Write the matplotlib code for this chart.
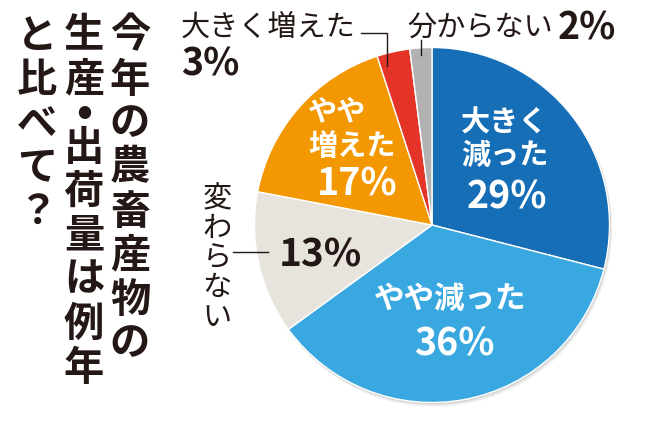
import matplotlib

matplotlib.use("Agg")
import matplotlib.pyplot as plt
from matplotlib.patches import Circle

plt.rcParams["font.family"] = ["Noto Sans CJK JP", "DejaVu Sans"]

# data
LABELS = ["大きく減った", "やや減った", "変わらない", "やや増えた", "大きく増えた", "分からない"]
SHARES = [29, 36, 13, 17, 3, 2]
COLORS = ["#166eb6", "#3aa8e0", "#e7e3dd", "#f39800", "#e43428", "#b2b2b2"]
TITLE_COLUMNS = ["今年の農畜産物の", "生産・出荷量は例年", "と比べて？"]

INK = "#231815"
CX, CY, R = 432, 225, 177.5


def pct(i: int) -> str:
    return f"{SHARES[i]}%"


def draw_title(ax) -> None:
    # vertical columns, right to left
    col_x = [130, 84, 37]
    for x, col in zip(col_x, TITLE_COLUMNS):
        y = 36
        prev = ""
        for ch in col:
            if prev:
                y += 34 if "・" in (ch, prev) else 44
            if ch == "・":
                # small round bullet, centred in the column
                ax.text(x, y, "●", ha="center", va="center", fontsize=10, color=INK)
            else:
                ax.text(x, y, ch, ha="center", va="center", fontsize=29,
                        fontweight="bold", color=INK)
            prev = ch


def main() -> None:
    fig = plt.figure(figsize=(6.5, 4.23), dpi=100)
    ax = fig.add_axes([0, 0, 1, 1])

    # soft shadow under the pie
    for k, a in [(4, 0.03), (3, 0.04), (2, 0.05), (1, 0.06)]:
        ax.add_patch(Circle((CX + k * 0.6, CY + k), R + 0.5, color="black", alpha=a, lw=0))

    ax.pie(SHARES, colors=COLORS, startangle=-90, counterclock=True, radius=R,
           center=(CX, CY), wedgeprops=dict(edgecolor="white", linewidth=1.0))
    ax.set_xlim(0, 650)
    ax.set_ylim(423, 0)
    ax.set_aspect("equal")
    ax.axis("off")

    draw_title(ax)

    white = dict(ha="center", va="center", color="white", fontweight="bold")
    # 大きく減った
    ax.text(505, 123, "大きく", fontsize=21, **white)
    ax.text(505, 155, "減った", fontsize=21, **white)
    ax.text(507, 197, pct(0), fontsize=27, **white)
    # やや減った
    ax.text(450, 299, LABELS[1], fontsize=22, **white)
    ax.text(454, 344, pct(1), fontsize=27, **white)
    # やや増えた
    ax.text(308, 111, "やや", fontsize=21, ha="left", va="center", color="white", fontweight="bold")
    ax.text(308, 146, "増えた", fontsize=21, ha="left", va="center", color="white", fontweight="bold")
    ax.text(357, 184, pct(3), fontsize=27, **white)

    # 変わらない (vertical)
    for i, ch in enumerate(LABELS[2]):
        ax.text(217, 199 + i * 29.7, ch, ha="center", va="center", fontsize=21, color=INK)
    ax.plot([233, 268], [252, 252], color=INK, lw=1)
    ax.text(320, 255, pct(2), ha="center", va="center", fontsize=28, fontweight="bold", color=INK)

    # 大きく増えた
    ax.text(181, 28, LABELS[4], ha="left", va="center", fontsize=21, color=INK)
    ax.text(181, 64, pct(4), ha="left", va="center", fontsize=27, fontweight="bold", color=INK)
    ax.plot([361, 387, 387], [33, 33, 66], color=INK, lw=1)

    # 分からない
    ax.text(407, 28, LABELS[5], ha="left", va="center", fontsize=21, color=INK)
    ax.text(558, 28, pct(5), ha="left", va="center", fontsize=27, fontweight="bold", color=INK)
    ax.plot([421, 421], [40, 55], color=INK, lw=1)

    fig.savefig("out.png", dpi=100)
    plt.close(fig)


if __name__ == "__main__":
    main()
